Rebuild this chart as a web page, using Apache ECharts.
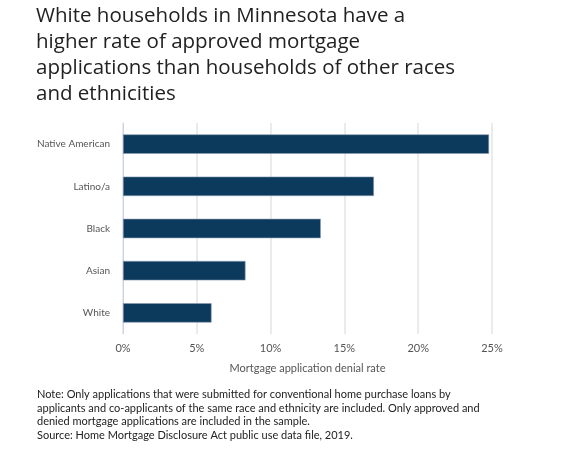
<!DOCTYPE html>
<html>
<head>
<meta charset="utf-8">
<script src="https://cdn.jsdelivr.net/npm/echarts@6/dist/echarts.min.js"></script>
<style>
html,body{margin:0;padding:0;background:#fff;}
#chart{width:576px;height:464px;}
</style>
</head>
<body>
<div id="chart"></div>
<script>
const categories = ['Native American', 'Latino/a', 'Black', 'Asian', 'White'];
const denialRate = [24.8, 17.0, 13.4, 8.3, 6.0];
const xTicks = [0, 5, 10, 15, 20, 25];

const titleText = 'White households in Minnesota have a\nhigher rate of approved mortgage\napplications than households of other races\nand ethnicities';
const noteText = 'Note: Only applications that were submitted for conventional home purchase loans by\napplicants and co-applicants of the same race and ethnicity are included. Only approved and\ndenied mortgage applications are included in the sample.\nSource: Home Mortgage Disclosure Act public use data file, 2019.';

const chart = echarts.init(document.getElementById('chart'));
chart.setOption({
  backgroundColor: '#fff',
  animation: false,
  title: [{
    text: titleText,
    left: 36,
    top: 3,
    padding: 0,
    textStyle: { fontFamily: 'Open Sans', fontSize: 20.5, fontWeight: 'normal', color: '#222', lineHeight: 26 }
  }, {
    text: noteText,
    left: 37,
    top: 388,
    padding: 0,
    textStyle: { fontFamily: 'Lato', fontSize: 11, fontWeight: 'normal', color: '#222', lineHeight: 13.5 }
  }],
  grid: { left: 123, right: 84, top: 123, bottom: 130, containLabel: false },
  xAxis: {
    type: 'value',
    min: xTicks[0],
    max: xTicks[xTicks.length - 1],
    interval: 5,
    name: 'Mortgage application denial rate',
    nameLocation: 'middle',
    nameGap: 29,
    nameTextStyle: { fontFamily: 'Lato', fontSize: 11, color: '#555' },
    axisLine: { show: false },
    axisTick: { show: false },
    axisLabel: { formatter: '{value}%', fontFamily: 'Lato', fontSize: 11, color: '#555', margin: 9 },
    splitLine: { show: true, lineStyle: { color: '#e4e4e4', width: 1.5 } }
  },
  yAxis: {
    type: 'category',
    data: categories,
    inverse: true,
    axisLine: { show: true, lineStyle: { color: '#c9d4e6', width: 1 } },
    axisTick: { show: false },
    axisLabel: { fontFamily: 'Lato', fontSize: 10, color: '#555', margin: 13 }
  },
  series: [{
    type: 'bar',
    data: denialRate,
    barWidth: '46%',
    itemStyle: { color: '#0b3a5d', borderColor: '#8a9bb0', borderWidth: 0.6 }
  }]
});
</script>
</body>
</html>
